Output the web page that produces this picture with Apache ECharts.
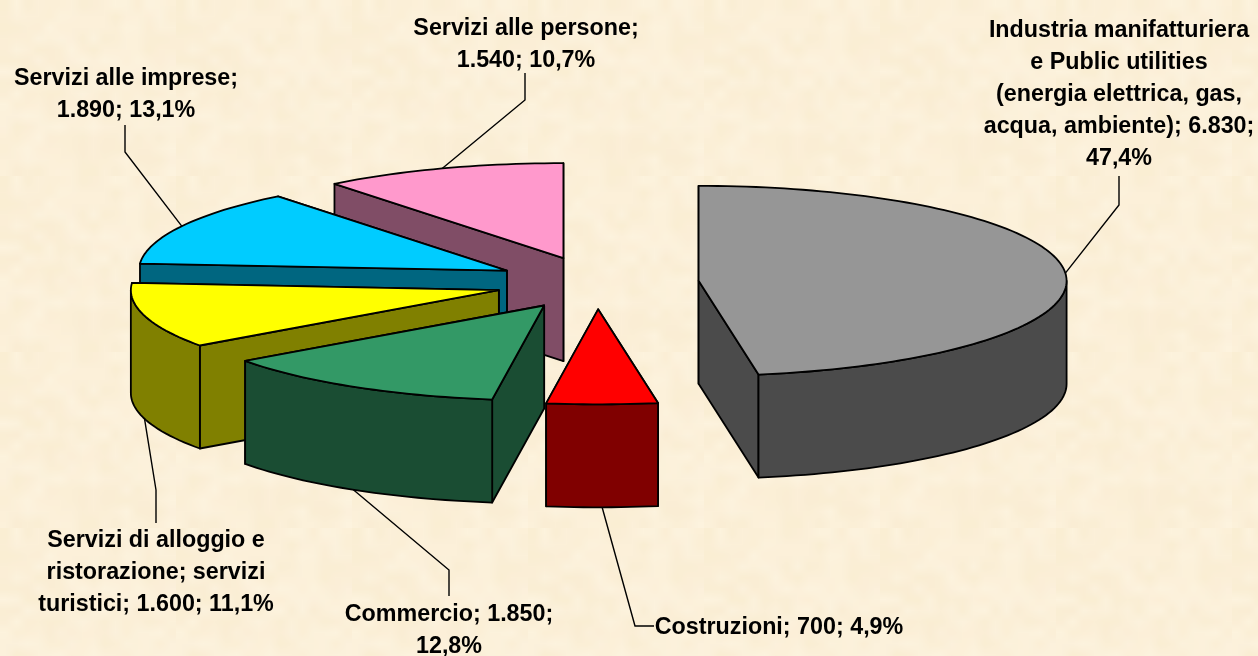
<!DOCTYPE html>
<html>
<head>
<meta charset="utf-8">
<title>Torta</title>
<style>
  html, body { margin: 0; padding: 0; background: #fcf0d9; }
  #main { width: 1258px; height: 656px; }
</style>
<script src="https://cdn.jsdelivr.net/npm/echarts@6/dist/echarts.min.js"></script>
</head>
<body>
<div id="main"></div>
<script>
// dati
var categories = [
  'Industria manifatturiera e Public utilities (energia elettrica, gas, acqua, ambiente)',
  'Costruzioni', 'Commercio', 'Servizi di alloggio e ristorazione; servizi turistici',
  'Servizi alle imprese', 'Servizi alle persone'
];
var values = [6830, 700, 1850, 1600, 1890, 1540];
var labelTexts = [
  'Industria manifatturiera\ne Public utilities\n(energia elettrica, gas,\nacqua, ambiente); 6.830;\n47,4%',
  'Costruzioni; 700; 4,9%',
  'Commercio; 1.850;\n12,8%',
  'Servizi di alloggio e\nristorazione; servizi\nturistici; 1.600; 11,1%',
  'Servizi alle imprese;\n1.890; 13,1%',
  'Servizi alle persone;\n1.540; 10,7%'
];
var topColors = ['#969696', '#ff0000', '#339966', '#ffff00', '#00ccff', '#ff99cc'];
var sideColors = ['#4b4b4b', '#800000', '#1a4d33', '#808000', '#006680', '#804d66'];

// geometria della torta (ellisse vista in prospettiva)
var CX = 597, CY = 283, RX = 368, RY = 95, DEPTH = 103, EXPLODE = 0.277;
// posizione etichette: [x, y prima riga] e piega della linea guida
var labelPos = [[1119, 15], [779, 612], [449, 599], [156, 525], [126, 63], [526, 13]];
var leaderBend = [
  [[1119, 205], [1119, 176]],
  [[635, 626], [654, 626]],
  [[449, 570], [449, 596]],
  [[156, 490], [156, 523]],
  [[125, 152], [125, 125]],
  [[525, 100], [525, 73]]
];

var total = values.reduce(function (a, b) { return a + b; }, 0);
var rad = Math.PI / 180;

// punto sul bordo dell'ellisse, angolo in gradi da ore 12 in senso orario
function rim(c, deg, dy) {
  return [c[0] + RX * Math.sin(deg * rad), c[1] - RY * Math.cos(deg * rad) + (dy || 0)];
}
function arc(c, from, to, dy) {
  var pts = [], n = Math.max(2, Math.ceil((to - from) / 1.5));
  for (var i = 0; i <= n; i++) pts.push(rim(c, from + (to - from) * i / n, dy));
  return pts;
}
function poly(points, fill, z2) {
  return {
    type: 'polygon',
    shape: { points: points },
    z2: z2,
    style: { fill: fill, stroke: '#000', lineWidth: 1.8, lineJoin: 'round' }
  };
}
function radialWall(c, edge, fill, z2) {
  return poly([c, edge, [edge[0], edge[1] + DEPTH], [c[0], c[1] + DEPTH]], fill, z2);
}

function renderSlice(params, api) {
  var i = params.dataIndex;
  var start = 0;
  for (var k = 0; k < i; k++) start += values[k];
  var a0 = start / total * 360;
  var a1 = a0 + api.value(0) / total * 360;
  var mid = (a0 + a1) / 2;
  var c = rim([CX, CY], mid, 0);
  c = [CX + (c[0] - CX) * EXPLODE, CY + (c[1] - CY) * EXPLODE];
  var z = (values.length - i) * 10;
  var children = [];

  // pareti radiali: prima quella piu' lontana
  var e0 = rim(c, a0), e1 = rim(c, a1);
  var walls = [e0, e1].sort(function (p, q) { return p[1] - q[1]; });
  children.push(radialWall(c, walls[0], sideColors[i], z));
  children.push(radialWall(c, walls[1], sideColors[i], z + 1));

  // parete esterna, solo la parte verso chi guarda
  var f0 = Math.max(a0, 90), f1 = Math.min(a1, 270);
  if (f1 > f0) {
    children.push(poly(arc(c, f0, f1).concat(arc(c, f0, f1, DEPTH).reverse()), sideColors[i], z + 2));
  }
  // faccia superiore
  children.push(poly([c].concat(arc(c, a0, a1)), topColors[i], z + 3));

  // linea guida, parte dal bordo a meta' fetta
  var front = mid > 170 && mid < 270;
  var from = rim(c, mid, front ? DEPTH : 0);
  children.push({
    type: 'polyline',
    shape: { points: [from].concat(leaderBend[i]) },
    z2: 100,
    style: { fill: null, stroke: '#000', lineWidth: 1.4 }
  });
  children.push({
    type: 'text',
    z2: 101,
    style: {
      text: labelTexts[i],
      x: labelPos[i][0],
      y: labelPos[i][1],
      align: 'center',
      verticalAlign: 'top',
      lineHeight: 32,
      fill: '#000',
      font: 'bold 23.3px "Liberation Sans", Arial, sans-serif'
    }
  });
  return { type: 'group', children: children };
}

// sfondo pergamena: macchie morbide ripetute
function paperTile() {
  var n = 16, size = 176;
  var small = document.createElement('canvas');
  small.width = small.height = n;
  var sc = small.getContext('2d');
  sc.fillStyle = '#fcf0d9';
  sc.fillRect(0, 0, n, n);
  for (var y = 0; y < n; y++) {
    for (var x = 0; x < n; x++) {
      var h = Math.sin(x * 12.9898 + y * 78.233) * 43758.5453;
      h = h - Math.floor(h);
      sc.fillStyle = h > 0.5 ? 'rgba(255,250,235,' + (h - 0.5) * 0.6 + ')' : 'rgba(240,225,180,' + (0.5 - h) * 0.3 + ')';
      sc.fillRect(x, y, 1, 1);
    }
  }
  var cv = document.createElement('canvas');
  cv.width = cv.height = size;
  var ctx = cv.getContext('2d');
  ctx.imageSmoothingEnabled = true;
  ctx.drawImage(small, 0, 0, size, size);
  return cv;
}

var myChart = echarts.init(document.getElementById('main'));
var option = {
  backgroundColor: { image: paperTile(), repeat: 'repeat' },
  animation: false,
  tooltip: { show: false },
  series: [{
    type: 'custom',
    coordinateSystem: 'none',
    silent: true,
    renderItem: renderSlice,
    data: values.map(function (v, i) { return { name: categories[i], value: [v] }; })
  }]
};
myChart.setOption(option);
</script>
</body>
</html>
